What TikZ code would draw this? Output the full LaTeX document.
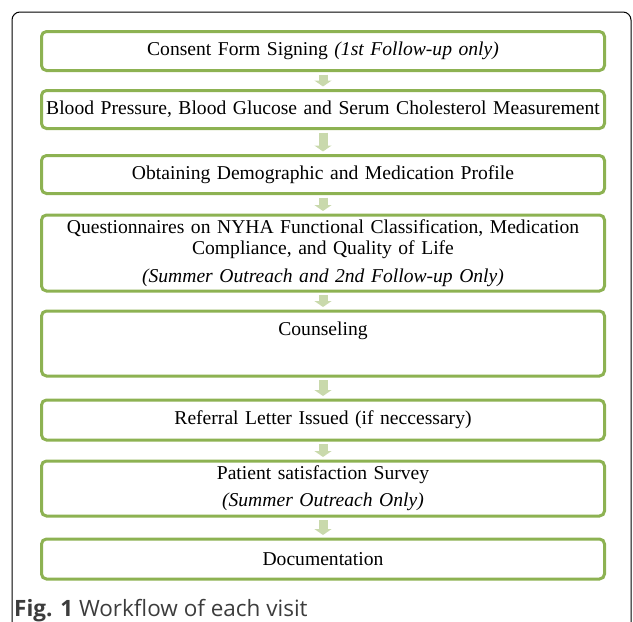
\documentclass[tikz,border=0pt]{standalone}
\usepackage{fontspec}
\setmainfont{Liberation Serif}
\newfontfamily\capfont{Open Sans}
\usetikzlibrary{arrows.meta}
\definecolor{boxgreen}{RGB}{141,178,82}
\definecolor{arrowgreen}{RGB}{201,217,172}
\definecolor{capgray}{RGB}{60,60,60}
\tikzset{
  stage/.style={draw=boxgreen, line width=3pt, rounded corners=5pt, fill=white,
    minimum width=563pt, text width=555pt, align=center, inner sep=0pt,
    font=\fontsize{19.6}{21}\selectfont},
  flow/.style={draw=arrowgreen, line width=9pt,
    -{Triangle[width=17pt,length=6pt]}, shorten <=2.5pt, shorten >=2.5pt}
}
\begin{document}
\begin{tikzpicture}[x=1pt,y=-1pt]
  \useasboundingbox (0,0) rectangle (633,622);
  \clip (0,0) rectangle (633,622);
  % outer frame
  \draw[line width=1pt, rounded corners=8pt] (12,650) -- (12,12) -- (631,12) -- (631,650);
  % stages of a visit
  \node[stage, minimum height=39pt] (consent) at (323,51) {Consent Form Signing \textit{(1st Follow-up only)}};
  \node[stage, minimum height=38pt] (bp) at (323,109.5) {Blood Pressure, Blood Glucose and Serum Cholesterol Measurement};
  \node[stage, minimum height=38pt] (profile) at (323,174.5) {Obtaining Demographic and Medication Profile};
  \node[stage, minimum height=76pt] (quest) at (323,253) {Questionnaires on NYHA Functional Classification, Medication\\ Compliance, and Quality of Life\\[7pt] \textit{(Summer Outreach and 2nd Follow-up Only)}};
  \node[stage, minimum height=65pt] (counsel) at (323,343.5) {Counseling\\[9pt]\mbox{}};
  \node[stage, minimum height=40pt] (referral) at (323,420) {Referral Letter Issued (if neccessary)};
  \node[stage, minimum height=55pt] (survey) at (323,488.5) {Patient satisfaction Survey\\[6pt] \textit{(Summer Outreach Only)}};
  \node[stage, minimum height=40pt] (docs) at (323,559) {Documentation};
  % arrows between stages
  \draw[flow] (consent) -- (bp);
  \draw[flow] (bp) -- (profile);
  \draw[flow] (profile) -- (quest);
  \draw[flow] (quest) -- (counsel);
  \draw[flow] (counsel) -- (referral);
  \draw[flow] (referral) -- (survey);
  \draw[flow] (survey) -- (docs);
  % caption
  \node[anchor=base west, inner sep=0pt, text=capgray, font=\capfont\fontsize{22.5}{26}\selectfont] (caption) at (14,616) {\textbf{Fig. 1} Workflow of each visit};
\end{tikzpicture}
\end{document}
